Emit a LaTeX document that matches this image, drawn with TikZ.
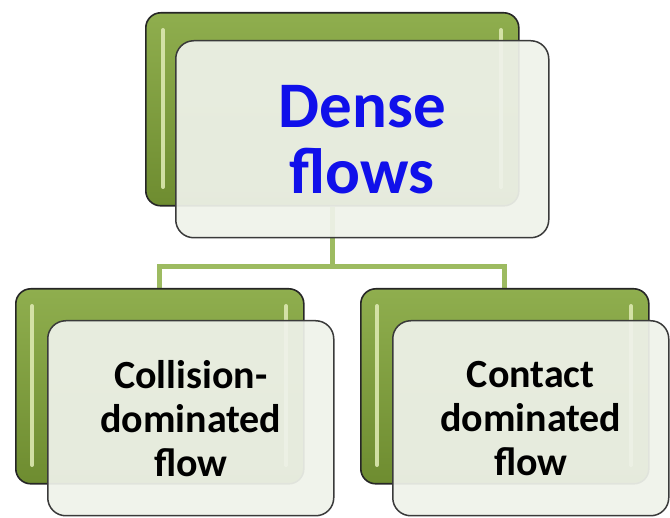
\documentclass[tikz,border=0pt]{standalone}
\usepackage{fontspec}
\setmainfont{Carlito}
\usetikzlibrary{backgrounds}
\definecolor{gfill}{HTML}{7F9D3E}
\definecolor{gtop}{HTML}{8FAE4E}
\definecolor{gbot}{HTML}{6E8C30}
\definecolor{ghl}{HTML}{DCE8B0}
\definecolor{conncol}{HTML}{9DBB61}
\definecolor{wfill}{HTML}{EFF2EA}
\definecolor{wline}{HTML}{3A3A3A}
\definecolor{tblue}{HTML}{1010EA}
\tikzset{
  gbox/.style={draw=black!85, line width=1.6pt, rounded corners=15pt,
    top color=gtop, bottom color=gbot, minimum width=#1},
  wbox/.style={draw=wline, line width=1.5pt, rounded corners=18pt,
    fill=wfill, fill opacity=0.93, text opacity=1, align=center},
  conn/.style={draw=conncol, line width=5pt},
  hl/.style={draw=ghl, line width=4pt, line cap=round, opacity=0.9},
}
\begin{document}
\begin{tikzpicture}[x=1pt,y=-1pt]
\useasboundingbox (0,0) rectangle (670,518);
% top
\node[gbox=373pt, minimum height=193pt, anchor=north west] (topg) at (145,12) {};
\draw[hl] (163,30) -- (163,187);
\draw[hl] (501,30) -- (501,187);
\node[wbox, minimum width=373pt, minimum height=197pt, anchor=north west,
  text=tblue, font=\bfseries\fontsize{65}{66}\selectfont] (topw) at (175,40) {Dense\\flows};
% bottom left
\node[gbox=288pt, minimum height=195pt, anchor=north west] (blg) at (15,288) {};
\draw[hl] (32,306) -- (32,465);
\draw[hl] (286,306) -- (286,465);
\node[wbox, minimum width=286pt, minimum height=195pt, anchor=north west,
  font=\bfseries\fontsize{40}{44}\selectfont] (blw) at (47,320) {Collision-\\dominated\\flow};
% bottom right
\node[gbox=288pt, minimum height=195pt, anchor=north west] (brg) at (360,288) {};
\draw[hl] (377,306) -- (377,465);
\draw[hl] (631,306) -- (631,465);
\node[wbox, minimum width=276pt, minimum height=195pt, anchor=north west,
  font=\bfseries\fontsize{40}{44}\selectfont] (brw) at (392,320) {Contact\\dominated\\flow};
% connectors
\begin{pgfonlayer}{background}
\coordinate (bus) at ([yshift=-60pt]topg.south);
\draw[conn] (topg.south) -- (bus) -| (blg.north);
\draw[conn] (bus) -| (brg.north);
\end{pgfonlayer}
\end{tikzpicture}
\end{document}
